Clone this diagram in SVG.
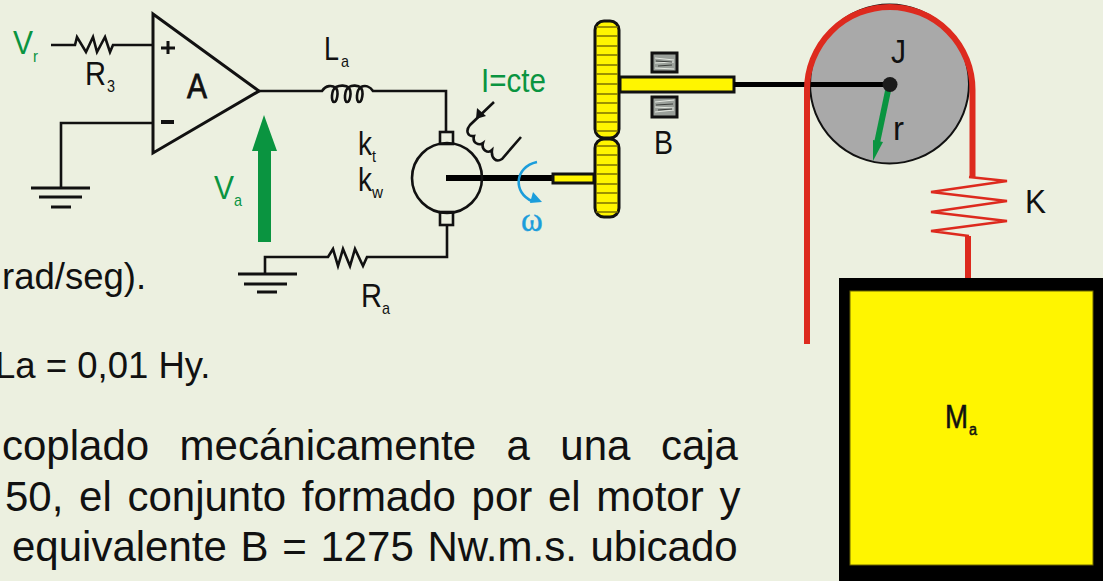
<svg xmlns="http://www.w3.org/2000/svg" width="1103" height="581" viewBox="0 0 1103 581">
<style>
text{font-family:"Liberation Sans",Arial,sans-serif;fill:#111}
.w{fill:none;stroke:#111;stroke-width:2.6;stroke-linejoin:miter}
.t{font-size:42px;fill:#111}
.u{font-size:36.500px;fill:#111}
.l{font-size:34px}
.s{font-size:17px}
text.g{fill:#0a9440}
.r{fill:none;stroke:#dd2a1e;stroke-width:6}
.gear{fill:#fff500;stroke:#111;stroke-width:3}
.tooth{stroke:#7d7200;stroke-width:1.500}
.brg{fill:#9aa09a;stroke:#111;stroke-width:3}
</style>
<rect width="1103" height="581" fill="#ecf0e0"/>
<g id="text-block">
<text class="u" x="2" y="289">rad/seg).</text>
<text class="u" x="-5" y="378">La = 0,01 Hy.</text>
<text class="t" x="2" y="460" word-spacing="18.800">coplado mecánicamente a una caja</text>
<text class="t" x="5" y="511" word-spacing="4">50, el conjunto formado por el motor y</text>
<text class="t" x="12" y="561" word-spacing="2">equivalente B = 1275 Nw.m.s. ubicado</text>
</g>
<g id="connectors">
<path class="w" d="M51 45H75L77 37L86 52L93 37L97 52L105 37L110 52L113 45H153"/>
<path class="w" d="M153 123H61V188"/>
<path class="w" d="M259 91H322C326 85 332 85 336 88C339 92 337 102 334 102C331 102 331 90 336 87C340 85 346 85 349 88C352 92 350 102 347 102C344 102 344 90 349 87C352 85 358 85 361 88C364 92 362 102 359 102C356 102 356 90 361 87C365 85 370 86 373 91H446V132"/>
<path class="w" d="M447 226V257H367L363 266L355 249L350 266L343 249L338 266L333 249L328 257H265V274"/>
<path d="M446 178H553" stroke="#000" stroke-width="6"/>
<path d="M734 84.500H889" stroke="#000" stroke-width="5"/>
</g>
<g id="ground-1"><path d="M31 188H90M39 197H82M51 207H71" stroke="#111" stroke-width="3" fill="none"/></g>
<g id="ground-2"><path d="M238 274H297M244 284H287M257 292H277" stroke="#111" stroke-width="3" fill="none"/></g>
<g id="amplifier">
<path d="M153 14L259 91L153 153Z" fill="none" stroke="#111" stroke-width="3"/>
<path d="M161 48H175M168 41V54" stroke="#111" stroke-width="3" fill="none"/>
<path d="M161 122H174" stroke="#111" stroke-width="4" fill="none"/>
<text x="187" y="98" font-size="35" stroke="#111" stroke-width=".8" textLength="20" lengthAdjust="spacingAndGlyphs">A</text>
</g>
<g id="voltage-arrow"><path d="M258 242V151H252L264 115L277 151H271V242Z" fill="#0a9440"/></g>
<g id="motor">
<rect x="440" y="132" width="13" height="12" fill="none" stroke="#111" stroke-width="2.600"/>
<rect x="440" y="212" width="13" height="13" fill="none" stroke="#111" stroke-width="2.600"/>
<circle cx="447" cy="178" r="35" fill="none" stroke="#111" stroke-width="2.600"/>
<path class="w" stroke-width="2.200" d="M494 102L470 125C465 131 468 137 474 136C472 143 479 146 483 143C481 150 488 154 492 150C491 158 496 163 502 159L521 137"/>
<path d="M476 119L477 108L486 116Z" fill="#111"/>
<path d="M537 162C514 167 513 193 532 201" fill="none" stroke="#1b9ddb" stroke-width="2.500"/>
<path d="M530 203L533 192L542 202Z" fill="#1b9ddb"/>
</g>
<g id="gear">
<rect x="553" y="174" width="41" height="9" fill="#fff500" stroke="#111" stroke-width="3"/>
<rect class="gear" x="595" y="21" width="24" height="117" rx="9"/>
<rect class="gear" x="595" y="139" width="24" height="78" rx="9"/>
<path class="tooth" d="M596 27H618M596 36H618M596 46H618M596 55H618M596 65H618M596 74H618M596 84H618M596 94H618M596 103H618M596 113H618M596 122H618M596 131H618M596 146H618M596 155H618M596 165H618M596 174H618M596 184H618M596 193H618M596 203H618M596 212H618"/>
<rect x="620" y="77" width="114" height="15" fill="#fff500" stroke="#111" stroke-width="3"/>
</g>
<g id="bearing">
<rect class="brg" x="652" y="53" width="25" height="19"/>
<rect class="brg" x="652" y="97" width="25" height="20"/>
<path d="M655 58l19 2M655 63l19-1M655 68l19 1M655 102l19-2M655 107l19 1M655 112l19-2" stroke="#e4e8e1" stroke-width="1" fill="none"/>
<path d="M656 61l16 1M658 66l14-1M656 105l17-1M658 110l14-1" stroke="#3a3d3a" stroke-width="1" fill="none"/>
</g>
<g id="pulley">
<circle cx="889.500" cy="84" r="79.500" fill="#a9a9a9" stroke="#111" stroke-width="2"/>
<path d="M734 84.500H889" stroke="#000" stroke-width="5"/>
<path d="M889 86L877 143" stroke="#0a9440" stroke-width="6"/>
<path d="M873 161L873 140L883 142Z" fill="#0a9440"/>
<circle cx="890" cy="84.500" r="7.500" fill="#1b1b1b"/>
<path class="r" d="M807 344V90A82.750 83 0 0 1 972.500 90V177"/>
</g>
<g id="spring">
<path d="M969 177L1007 181L931 192L1007 201L931 212L1007 221L931 231L969 236" fill="none" stroke="#dd2a1e" stroke-width="2.500"/>
<path class="r" d="M968 236V279"/>
</g>
<g id="mass">
<rect x="839" y="278" width="264" height="303" fill="#000"/>
<rect x="850" y="291" width="243" height="274" fill="#fff500" stroke="#6b6500" stroke-width="1"/>
<text x="945" y="428" font-size="33" stroke="#111" stroke-width=".6" textLength="23" lengthAdjust="spacingAndGlyphs">M</text>
<text x="969" y="435" font-size="16" stroke="#111" stroke-width=".5" textLength="8" lengthAdjust="spacingAndGlyphs">a</text>
</g>
<g id="labels">
<text class="l g" x="13" y="54" textLength="20" lengthAdjust="spacingAndGlyphs">V</text><text class="s g" x="33" y="62" textLength="5" lengthAdjust="spacingAndGlyphs">r</text>
<text class="l" x="85" y="85" textLength="21" lengthAdjust="spacingAndGlyphs">R</text><text class="s" x="107" y="92" textLength="8" lengthAdjust="spacingAndGlyphs">3</text>
<text class="l" x="324" y="60" textLength="15" lengthAdjust="spacingAndGlyphs">L</text><text class="s" x="341" y="67" textLength="8" lengthAdjust="spacingAndGlyphs">a</text>
<text class="l" x="358" y="155" textLength="14" lengthAdjust="spacingAndGlyphs">k</text><text class="s" x="372" y="162" textLength="4" lengthAdjust="spacingAndGlyphs">t</text>
<text class="l" x="358" y="191" textLength="14" lengthAdjust="spacingAndGlyphs">k</text><text class="s" x="372" y="198" textLength="11" lengthAdjust="spacingAndGlyphs">w</text>
<text class="l g" x="214" y="199" textLength="20" lengthAdjust="spacingAndGlyphs">V</text><text class="s g" x="234" y="206" textLength="8" lengthAdjust="spacingAndGlyphs">a</text>
<text class="l" x="361" y="307" textLength="21" lengthAdjust="spacingAndGlyphs">R</text><text class="s" x="382" y="314" textLength="8" lengthAdjust="spacingAndGlyphs">a</text>
<text class="l g" x="481" y="92" textLength="65" lengthAdjust="spacingAndGlyphs">I=cte</text>
<text x="521" y="231" font-size="33" stroke="#1b9ddb" stroke-width=".4" style="font-family:'Liberation Serif',serif;fill:#1b9ddb">ω</text>
<text class="l" x="654" y="154" textLength="19" lengthAdjust="spacingAndGlyphs">B</text>
<text class="l" x="891" y="63" textLength="15" lengthAdjust="spacingAndGlyphs">J</text>
<text class="l" x="893" y="140" textLength="11" lengthAdjust="spacingAndGlyphs">r</text>
<text class="l" x="1025" y="213" textLength="21" lengthAdjust="spacingAndGlyphs">K</text>
</g>
</svg>
